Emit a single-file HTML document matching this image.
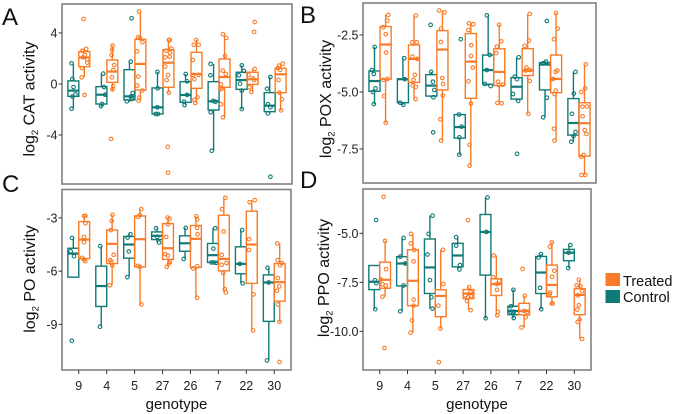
<!DOCTYPE html>
<html lang="en">
<head>
<meta charset="utf-8">
<title>Enzyme activity by genotype</title>
<style>
html,body{margin:0;padding:0;background:#fff;}
svg{display:block;font-family:"Liberation Sans",sans-serif;filter:blur(0.35px);}
</style>
</head>
<body>
<svg id="chart" width="675" height="414" viewBox="0 0 675 414" xmlns="http://www.w3.org/2000/svg">
  <text x="2" y="25" font-size="24" fill="#111">A</text>
  <text x="300" y="23" font-size="24" fill="#111">B</text>
  <text x="2" y="192" font-size="24" fill="#111">C</text>
  <text x="300" y="188" font-size="24" fill="#111">D</text>
  <g>
    <rect x="605.5" y="273" width="14.5" height="13" fill="#f97b27"></rect>
    <text x="623" y="286" font-size="14.5" fill="#111">Treated</text>
    <rect x="605.5" y="290" width="14.5" height="13" fill="#0f7a76"></rect>
    <text x="623" y="302" font-size="14.5" fill="#111">Control</text>
  </g>
</svg>
<script>
const genotypes = ['9','4','5','27','26','7','22','30'];

/* y-axis ticks */
const catTicks = [4, 0, -4];
const catTickLabels = ['4', '0', '-4'];
const poxTicks = [-2.5, -5, -7.5];
const poxTickLabels = ['-2.5', '-5.0', '-7.5'];
const poTicks = [-3, -6, -9];
const poTickLabels = ['-3', '-6', '-9'];
const ppoTicks = [-5, -7.5, -10];
const ppoTickLabels = ['-5.0', '-7.5', '-10.0'];

/* box statistics per genotype: low whisker, q1, median, q3, high whisker */
const catControlStats = [[-1.99,-.97,-.52,.24,1.62],[-1.78,-1.57,-.84,-.21,.84],[-1.39,-1.25,-.97,1.12,1.75],[-2.43,-2.35,-1.83,-.31,.94],[-1.65,-1.44,-.86,.18,.78],[-5.23,-2.04,-1.36,.18,1.57],[-1.96,-.42,.31,.92,1.46],[-2.33,-2.17,-1.7,-.68,.55]];
const catTreatedStats = [[.52,1.36,2.07,2.54,2.8],[-.52,.13,.97,1.88,3.0],[-1.33,-.47,1.57,3.5,5.67],[-.68,-.26,1.67,2.69,3.45],[-1.52,-.34,.78,2.48,3.45],[-2.61,-.26,.55,1.96,3.9],[-.65,-.03,.37,.92,1.18],[-2.07,-.68,.76,1.23,1.59]];
const poxControlStats = [[-5.54,-4.97,-4.52,-4.08,-3.03],[-5.57,-5.47,-4.44,-4.43,-3.52],[-5.25,-5.18,-4.72,-4.24,-4.12],[-7.75,-7.02,-6.54,-5.99,-5.99],[-4.74,-4.66,-4.04,-3.38,-1.64],[-5.4,-5.31,-4.77,-4.37,-3.48],[-6.11,-4.91,-3.8,-3.71,-3.65],[-7.18,-6.89,-6.36,-5.29,-4.12]];
const poxTreatedStats = [[-6.35,-4.44,-2.92,-2.13,-1.62],[-5.32,-4.58,-3.55,-2.94,-1.65],[-7.13,-4.91,-3.14,-2.31,-1.43],[-8.23,-5.28,-3.67,-2.44,-1.96],[-5.51,-4.72,-4.12,-3.11,-2.05],[-5.96,-4.28,-4.06,-3.1,-1.58],[-7.13,-5.03,-4.43,-3.38,-1.54],[-8.64,-7.81,-6.37,-5.47,-3.79]];
const poControlStats = [[-6.34,-6.34,-5.01,-4.71,-4.13],[-9.13,-7.99,-6.84,-5.72,-4.59],[-6.34,-5.27,-4.5,-4.05,-3.88],[-4.39,-4.22,-4.01,-3.79,-3.58],[-5.31,-4.88,-4.43,-4.01,-3.56],[-5.51,-5.51,-5.1,-4.44,-3.58],[-6.69,-6.15,-5.59,-4.63,-3.69],[-11.03,-8.83,-6.64,-6.21,-5.81]];
const poTreatedStats = [[-5.44,-5.29,-4.22,-3.21,-2.89],[-6.79,-5.57,-4.46,-3.68,-2.83],[-7.88,-5.76,-4.2,-2.89,-2.51],[-5.76,-5.34,-4.71,-3.32,-2.98],[-7.5,-5.79,-4.18,-3.43,-2.91],[-7.2,-5.98,-5.31,-2.85,-1.87],[-9.34,-6.69,-4.5,-2.62,-2.0],[-8.85,-7.69,-6.62,-5.57,-4.44]];
const ppoControlStats = [[-8.87,-7.87,-7.47,-6.64,-6.64],[-8.98,-7.68,-6.54,-6.19,-5.24],[-8.84,-8.07,-6.74,-5.29,-4.1],[-6.84,-6.71,-6.13,-5.51,-5.2],[-9.33,-7.13,-4.93,-4.04,-3.17],[-9.33,-9.15,-8.96,-8.72,-7.87],[-8.87,-8.07,-7.0,-6.18,-6.06],[-6.77,-6.4,-5.99,-5.82,-5.6]];
const ppoTreatedStats = [[-8.23,-7.8,-7.37,-6.47,-5.39],[-10.07,-8.69,-7.42,-5.84,-5.03],[-9.85,-9.25,-8.19,-7.88,-5.84],[-8.92,-8.33,-8.07,-7.87,-7.75],[-9.18,-8.17,-7.59,-7.32,-6.13],[-9.8,-9.16,-8.96,-8.57,-8.19],[-8.6,-8.24,-7.63,-6.62,-5.46],[-10.39,-9.15,-8.14,-7.82,-7.37]];

/* individual measurements per genotype */
const catControlValues = [[1.62,.39,-.24,-.81,-.99,-1.94],[.81,-.24,-.84,-1.57,-1.73],[5.15,1.75,-.71,-.99,-1.18,-1.36],[.94,-.34,-1.83,-2.35,-2.35],[.78,.21,-.86,-1.39,-1.65],[1.57,.68,-1.33,-1.39,-2.22,-5.23],[1.46,1.02,.68,.03,-.52,-1.96],[.55,-.37,-1.59,-1.83,-2.3,-7.27]];
const catTreatedValues = [[5.1,2.75,2.6,2.27,1.93,2.09,1.67,1.25,.52,-.86],[3.0,2.67,2.27,1.49,1.1,.52,-.16,-.42,-4.31],[5.67,3.66,3.58,3.27,2.56,.58,-.13,-.52,-1.07,-1.31],[3.45,3.45,2.77,2.61,2.46,2.09,2.14,1.36,.71,.31,-.68,-4.92,-6.95],[3.45,3.08,3.08,1.88,.71,.71,.37,-1.05,-1.25,-1.49],[3.9,3.61,2.2,1.05,.78,-.03,-.34,-.42,-1.59,-2.61],[4.86,4.08,1.18,.71,.44,.31,-.26,-.63],[1.59,1.44,1.25,1.1,.31,-.68,-1.2,-2.07]];
const poxControlValues = [[-3.03,-4.04,-4.21,-4.84,-5.0,-5.53],[-3.52,-4.44,-5.47,-5.56],[-2.06,-4.12,-4.55,-4.91,-5.23,-6.77],[-5.99,-2.69,-6.52,-6.99,-7.75],[-1.64,-3.38,-4.04,-4.65,-4.74],[-3.48,-4.33,-4.44,-5.09,-5.39,-7.71],[-1.89,-3.67,-3.74,-5.25,-6.11],[-4.12,-5.07,-5.96,-6.75,-6.93,-7.18]];
const poxTreatedValues = [[-1.62,-1.87,-2.16,-2.47,-3.27,-4.43,-4.47,-5.18,-6.35],[-1.65,-2.82,-2.82,-3.45,-3.55,-4.25,-4.47,-4.71,-4.77,-5.31],[-1.43,-1.51,-2.22,-2.81,-4.39,-4.65,-5.16,-6.2,-7.13],[-1.99,-2.03,-2.28,-2.95,-3.42,-3.93,-4.53,-5.51,-7.31,-8.23],[-2.05,-2.78,-3.01,-3.3,-4.55,-4.69,-4.68,-5.48,-5.5],[-1.58,-2.75,-2.98,-3.93,-4.04,-4.06,-4.52,-5.96],[-1.54,-2.22,-2.69,-4.06,-4.12,-4.43,-4.94,-5.09,-6.61,-7.13],[-3.79,-4.84,-5.0,-5.64,-5.64,-6.07,-6.67,-6.84,-7.76,-7.84,-8.64,-8.64]];
const poControlValues = [[-4.13,-4.88,-5.16,-9.92],[-4.59,-9.13],[-3.92,-4.11,-4.89,-6.34],[-3.58,-4.39,-4.07],[-3.56,-5.31],[-3.58,-4.73,-5.51,-5.51,-5.53],[-3.69,-5.59,-6.69],[-5.81,-6.64,-11.03]];
const poTreatedValues = [[-2.89,-2.89,-3.3,-4.07,-4.37,-5.25,-5.44,-5.34],[-2.83,-3.17,-3.69,-5.38,-5.47,-5.08,-5.68,-6.79],[-2.51,-2.85,-2.94,-5.7,-5.76,-7.88],[-2.98,-3.04,-3.36,-4.07,-5.04,-5.12,-5.48,-5.57,-5.76],[-2.91,-3.09,-3.56,-3.92,-5.85,-5.72,-7.5],[-1.87,-2.51,-3.77,-5.08,-5.55,-5.64,-6.11,-7.01,-7.2],[-2.0,-2.12,-4.2,-4.8,-7.31,-9.34],[-4.44,-5.38,-5.55,-5.66,-6.39,-6.86,-7.1,-7.88,-8.85,-11.12]];
const ppoControlValues = [[-4.32,-7.39,-7.54,-8.87],[-5.24,-6.19,-6.54,-7.66,-8.98],[-4.1,-5.03,-6.08,-7.39,-8.26,-8.84],[-5.2,-5.63,-6.62,-6.84],[-3.17,-4.93,-9.33],[-7.88,-8.72,-9.0,-9.09,-9.0,-9.32],[-6.06,-6.23,-7.78,-8.87],[-5.6,-5.99,-6.77]];
const ppoTreatedValues = [[-3.14,-5.39,-6.83,-7.35,-7.66,-7.6,-8.23,-10.85],[-5.03,-5.51,-5.85,-6.43,-8.38,-8.69,-9.44,-10.07],[-5.84,-7.59,-8.69,-9.85,-11.57],[-4.33,-7.75,-7.99,-8.16,-8.21,-8.24,-8.45,-8.92],[-6.13,-7.24,-7.42,-7.58,-7.88,-9.0,-9.18],[-6.81,-8.19,-8.96,-9.0,-9.28,-9.8],[-5.46,-5.68,-6.91,-7.22,-8.02,-8.11,-8.58,-8.58],[-7.37,-7.65,-7.7,-7.94,-8.16,-8.67,-8.89,-9.4,-9.52,-10.39]];

/* horizontal jitter of each measurement, in fractions of one genotype band */
const catControlJitter = [[-.26,-.23,-.19,-.12,-.23,-.26],[-.13,-.1,-.06,-.17,-.21],[-.12,-.15,-.08,-.15,-.12,-.29],[-.2,-.19,-.2,-.26,-.18],[-.19,-.14,-.14,-.25,-.23],[-.3,-.31,-.21,-.13,-.3,-.26],[-.19,-.12,-.29,-.25,-.19,-.19],[-.17,-.29,-.26,-.17,-.26,-.17]];
const catTreatedJitter = [[.17,.26,.12,.21,.3,.15,.3,.11,.1,.2],[.2,.19,.17,.26,.23,.18,.23,.2,.15],[.15,.11,.18,.27,.07,.12,.08,.26,.15,.13],[.21,.24,.3,.12,.25,.08,.24,.08,.18,.13,.21,.17,.18],[.19,.1,.27,.07,.26,.07,.12,.23,.12,.15],[.14,.26,.21,.13,.24,.07,.1,.05,.07,.14],[.27,.25,.27,.05,.2,.25,.08,.15],[.27,.14,.1,.18,.12,.15,.24,.21]];
const poxControlJitter = [[-.19,-.29,-.22,-.16,-.25,-.22],[-.15,-.13,-.29,-.18],[-.22,-.2,-.14,-.09,-.12,-.13],[-.22,-.16,-.13,-.21,-.21],[-.24,-.14,-.24,-.31,-.11],[-.12,-.26,-.18,-.32,-.14,-.18],[-.13,-.16,-.26,-.13,-.26],[-.12,-.18,-.25,-.12,-.19,-.27]];
const poxTreatedJitter = [[.29,.26,.12,.2,.21,.26,.12,.14,.2],[.26,.14,.29,.14,.31,.22,.18,.15,.26,.25],[.08,.27,.15,.14,.19,.22,.21,.12,.15],[.13,.28,.11,.21,.2,.26,.11,.2,.15,.15],[.19,.27,.11,.09,.15,.18,.32,.13,.28],[.27,.24,.09,.15,.27,.13,.27,.22],[.19,.25,.12,.24,.18,.09,.18,.14,.12,.14],[.24,.22,.08,.12,.28,.13,.2,.26,.16,.08,.09,.22]];
const poControlJitter = [[-.24,-.29,-.17,-.25],[-.23,-.24],[-.15,-.25,-.21,-.26],[-.23,-.12,-.19],[-.17,-.24],[-.11,-.18,-.25,-.17,-.08],[-.15,-.23,-.13],[-.24,-.2,-.26]];
const poTreatedJitter = [[.19,.24,.24,.19,.19,.12,.23,.19],[.21,.18,.15,.13,.17,.25,.2,.11],[.24,.19,.12,.12,.19,.24],[.18,.25,.2,.13,.1,.19,.27,.23,.15],[.21,.24,.24,.25,.1,.24,.24],[.25,.13,.19,.12,.29,.12,.17,.23,.27],[.3,.12,.1,.1,.26,.24],[.11,.12,.27,.21,.13,.18,.1,.13,.19,.19]];
const ppoControlJitter = [[-.13,-.17,-.12,-.16],[-.14,-.26,-.08,-.14,-.26],[-.1,-.24,-.28,-.19,-.14,-.1],[-.25,-.25,-.11,-.13],[-.12,-.17,-.19],[-.19,-.28,-.18,-.2,-.28,-.18],[-.2,-.28,-.23,-.19],[-.14,-.2,-.22]];
const ppoTreatedJitter = [[.14,.19,.23,.04,.22,.1,.1,.17],[.13,.12,.24,.22,.22,.22,.16,.11],[.28,.29,.11,.18,.13],[.17,.22,.27,.08,.28,.19,.14,.27],[.1,.08,.3,.22,.22,.25,.23],[.14,.22,.2,.3,.25,.1],[.19,.12,.28,.2,.13,.11,.22,.19],[.16,.08,.22,.28,.13,.16,.11,.19,.12,.28]];

const TEAL = '#0f7a76';
const ORANGE = '#f97b27';
const NS = 'http://www.w3.org/2000/svg';
const svg = document.getElementById('chart');

function add(parent, tag, attrs) {
  const el = document.createElementNS(NS, tag);
  for (const k in attrs) el.setAttribute(k, attrs[k]);
  parent.appendChild(el);
  return el;
}

function drawSeries(g, key, label, colour, dodge, stats, values, jitter, xScale, band, yScale) {
  stats.forEach(function (s, i) {
    const cx = xScale(i) + dodge * band;
    const hw = band * 0.195;
    const lowWhisker = add(g, 'line', {x1: cx, x2: cx, y1: yScale(s[0]), y2: yScale(s[1]), stroke: colour, 'stroke-width': 1.4});
    
    
    const highWhisker = add(g, 'line', {x1: cx, x2: cx, y1: yScale(s[3]), y2: yScale(s[4]), stroke: colour, 'stroke-width': 1.4});
    
    
    const box = add(g, 'rect', {x: cx - hw, y: yScale(s[3]), width: 2 * hw, height: yScale(s[1]) - yScale(s[3]), fill: 'none', stroke: colour, 'stroke-width': 1.4});
    
    
    const median = add(g, 'line', {x1: cx - hw, x2: cx + hw, y1: yScale(s[2]), y2: yScale(s[2]), stroke: colour, 'stroke-width': 2.2});
    
    
    values[i].forEach(function (v, j) {
      const dot = add(g, 'circle', {cx: xScale(i) + jitter[i][j] * band, cy: yScale(v), r: 1.8, fill: 'none', stroke: colour, 'stroke-width': 1.1});
      
      
    });
  });
}

function drawPanel(p) {
  const g = add(svg, 'g', {});
  
  
  const band = (p.right - p.left) / 8.2;
  const xScale = function (i) { return p.left + (i + 0.6) * band; };
  const yScale = function (v) { return p.top + (p.domainTop - v) / (p.domainTop - p.domainBottom) * (p.bottom - p.top); };

  const frame = add(g, 'rect', {x: p.left, y: p.top, width: p.right - p.left, height: p.bottom - p.top, fill: '#fff', stroke: '#808080', 'stroke-width': 1.6});
  
  

  p.ticks.forEach(function (t, i) {
    const y = yScale(t);
    const tick = add(g, 'line', {x1: p.left - 3.5, x2: p.left, y1: y, y2: y, stroke: '#333', 'stroke-width': 1});
    
    
    const lab = add(g, 'text', {x: p.left - 4.5, y: y + 4.5, 'text-anchor': 'end', 'font-size': 12.5, fill: '#222'});
    lab.textContent = p.tickLabels[i];
    
    
  });

  const title = add(g, 'text', {transform: 'translate(' + p.titleX + ',' + p.titleY + ') rotate(-90)', 'text-anchor': 'middle', 'font-size': 16, fill: '#111'});
  
  
  add(title, 'tspan', {}).textContent = 'log';
  add(title, 'tspan', {dy: 3.5, 'font-size': 9.5}).textContent = '2';
  add(title, 'tspan', {dy: -3.5}).textContent = ' ' + p.title + ' activity';

  if (p.showX) {
    genotypes.forEach(function (name, i) {
      const x = xScale(i);
      const tick = add(g, 'line', {x1: x, x2: x, y1: p.bottom, y2: p.bottom + 4, stroke: '#333', 'stroke-width': 1});
      
      
      const lab = add(g, 'text', {x: x, y: 390, 'text-anchor': 'middle', 'font-size': 12.5, fill: '#222'});
      lab.textContent = name;
      
      
    });
    const xTitle = add(g, 'text', {x: (p.left + p.right) / 2, y: 409, 'text-anchor': 'middle', 'font-size': 15, fill: '#111'});
    xTitle.textContent = 'genotype';
    
    
  }

  drawSeries(g, p.key, 'control', TEAL, -0.195, p.controlStats, p.controlValues, p.controlJitter, xScale, band, yScale);
  drawSeries(g, p.key, 'treated', ORANGE, 0.195, p.treatedStats, p.treatedValues, p.treatedJitter, xScale, band, yScale);
}

drawPanel({key: 'cat', title: 'CAT', left: 62, right: 292, top: 4, bottom: 184, domainTop: 6.27, domainBottom: -7.84, titleX: 34.5, titleY: 99, showX: false, ticks: catTicks, tickLabels: catTickLabels, controlStats: catControlStats, treatedStats: catTreatedStats, controlValues: catControlValues, treatedValues: catTreatedValues, controlJitter: catControlJitter, treatedJitter: catTreatedJitter});
drawPanel({key: 'pox', title: 'POX', left: 363, right: 596, top: 3, bottom: 183, domainTop: -1.10, domainBottom: -8.99, titleX: 331, titleY: 99, showX: false, ticks: poxTicks, tickLabels: poxTickLabels, controlStats: poxControlStats, treatedStats: poxTreatedStats, controlValues: poxControlValues, treatedValues: poxTreatedValues, controlJitter: poxControlJitter, treatedJitter: poxTreatedJitter});
drawPanel({key: 'po', title: 'PO', left: 62, right: 291, top: 189.5, bottom: 370, domainTop: -1.40, domainBottom: -11.57, titleX: 35, titleY: 279, showX: true, ticks: poTicks, tickLabels: poTickLabels, controlStats: poControlStats, treatedStats: poTreatedStats, controlValues: poControlValues, treatedValues: poTreatedValues, controlJitter: poControlJitter, treatedJitter: poTreatedJitter});
drawPanel({key: 'ppo', title: 'PPO', left: 363, right: 591, top: 189, bottom: 370, domainTop: -2.74, domainBottom: -11.97, titleX: 329, titleY: 278, showX: true, ticks: ppoTicks, tickLabels: ppoTickLabels, controlStats: ppoControlStats, treatedStats: ppoTreatedStats, controlValues: ppoControlValues, treatedValues: ppoTreatedValues, controlJitter: ppoControlJitter, treatedJitter: ppoTreatedJitter});
</script>
</body>
</html>
